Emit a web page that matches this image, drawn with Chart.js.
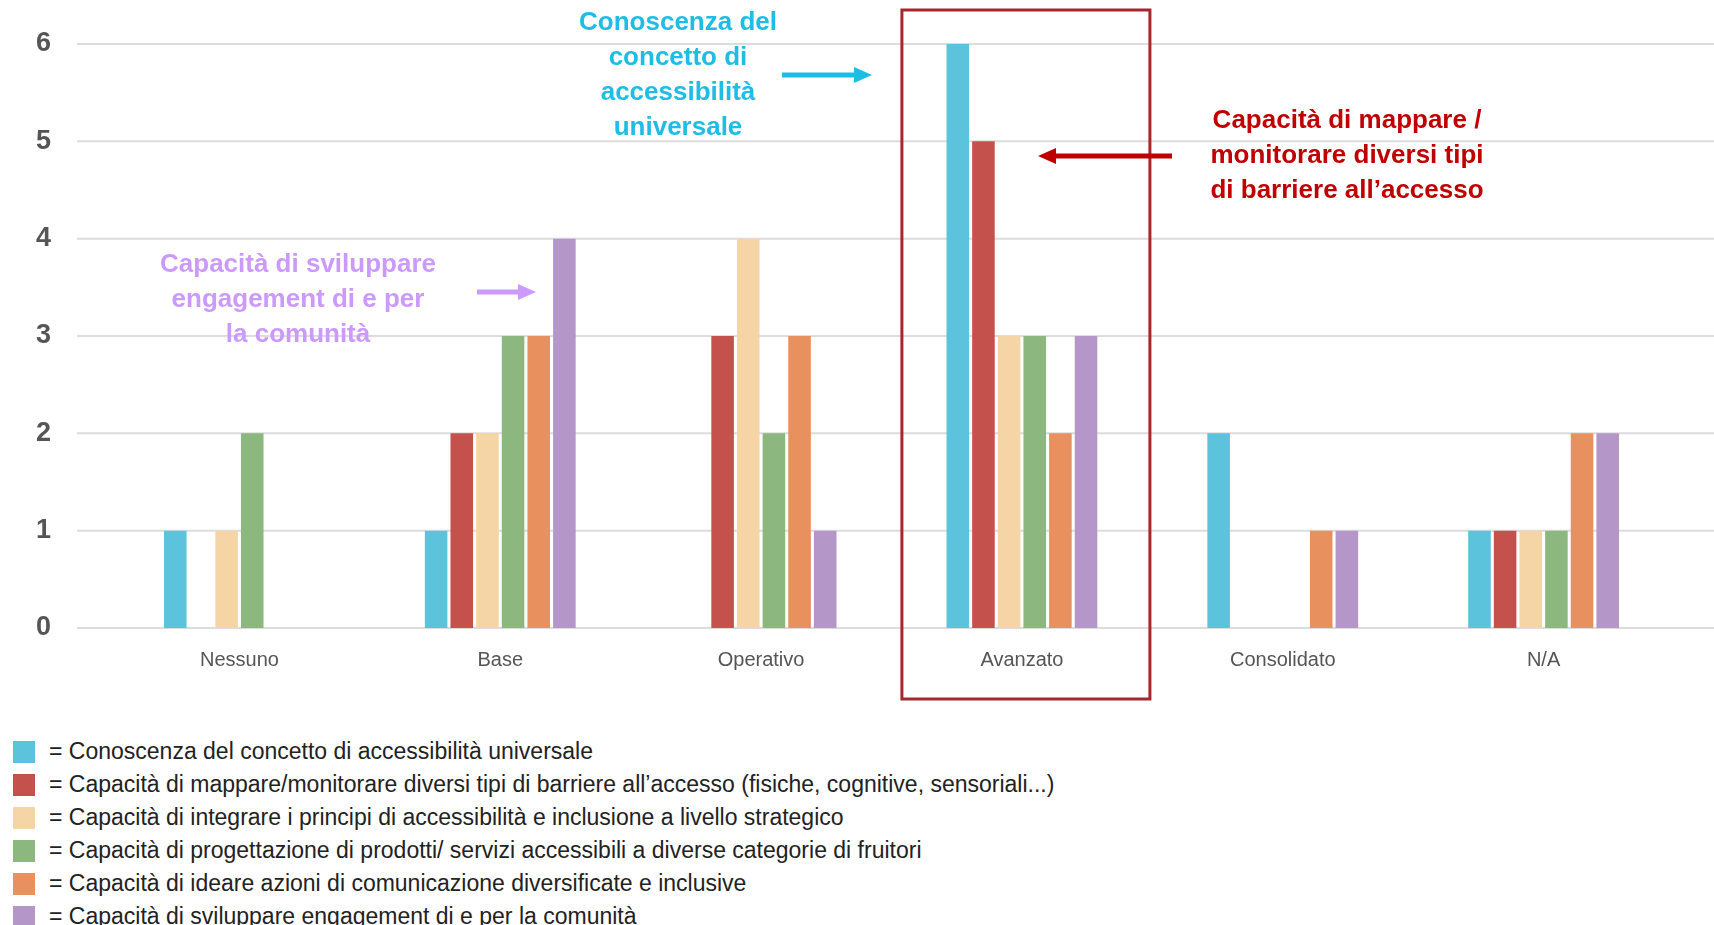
<!DOCTYPE html>
<html>
<head>
<meta charset="utf-8">
<script src="https://cdn.jsdelivr.net/npm/chart.js@4/dist/chart.umd.min.js"></script>
<style>
  body { margin: 0; background: #fff; width: 1714px; height: 925px; overflow: hidden; position: relative; }
  #wrap { position: absolute; left: 0; top: 0; width: 1714px; height: 720px; }
  #legend { position: absolute; left: 13px; top: 735px; font-family: "Liberation Sans Narrow", "Liberation Sans", Arial, sans-serif; font-size: 23px; color: #222; }
  #legend div { height: 33px; display: flex; align-items: center; }
  #legend span.box { display: inline-block; width: 22px; height: 22px; margin-right: 14px; }
</style>
</head>
<body>
<div id="wrap"><canvas id="chart"></canvas></div>
<div id="legend"></div>
<script>
const categories = ['Nessuno', 'Base', 'Operativo', 'Avanzato', 'Consolidato', 'N/A'];

const seriesNames = [
  'Conoscenza del concetto di accessibilità universale',
  'Capacità di mappare/monitorare diversi tipi di barriere all\u2019accesso (fisiche, cognitive, sensoriali...)',
  'Capacità di integrare i principi di accessibilità e inclusione a livello strategico',
  'Capacità di progettazione di prodotti/ servizi accessibili a diverse categorie di fruitori',
  'Capacità di ideare azioni di comunicazione diversificate e inclusive',
  'Capacità di sviluppare engagement di e per la comunità',
];

const conoscenza = [1, 1, 0, 6, 2, 1];
const mappare = [0, 2, 3, 5, 0, 1];
const integrare = [1, 2, 4, 3, 0, 1];
const progettazione = [2, 3, 2, 3, 0, 1];
const comunicazione = [0, 3, 3, 2, 1, 2];
const engagement = [0, 4, 1, 3, 1, 2];

const yTicks = [0, 1, 2, 3, 4, 5, 6];

const colors = ['#5bc4dc', '#c5514d', '#f5d5a6', '#8cb880', '#e9905f', '#b496c8'];
const allSeries = [conoscenza, mappare, integrare, progettazione, comunicazione, engagement];

// html legend built from the series
const legend = document.getElementById('legend');
seriesNames.forEach((name, i) => {
  const row = document.createElement('div');
  row.innerHTML = '<span class="box" style="background:' + colors[i] + '"></span>= ' + name;
  legend.appendChild(row);
});

function arrow(ctx, x1, x2, y, color) {
  const dir = x2 > x1 ? 1 : -1;
  ctx.strokeStyle = color;
  ctx.fillStyle = color;
  ctx.lineWidth = 5;
  ctx.beginPath();
  ctx.moveTo(x1, y);
  ctx.lineTo(x2 - dir * 14, y);
  ctx.stroke();
  ctx.beginPath();
  ctx.moveTo(x2, y);
  ctx.lineTo(x2 - dir * 18, y - 8);
  ctx.lineTo(x2 - dir * 18, y + 8);
  ctx.closePath();
  ctx.fill();
}

function textBlock(ctx, lines, x, y, color) {
  ctx.font = 'bold 26px "Liberation Sans", Arial, sans-serif';
  ctx.fillStyle = color;
  ctx.textAlign = 'center';
  ctx.textBaseline = 'middle';
  lines.forEach((l, i) => ctx.fillText(l, x, y + i * 35));
}

const extras = {
  id: 'extras',
  beforeDatasetsDraw(chart) {
    const ctx = chart.ctx;
    const y = chart.scales.y;
    ctx.save();
    ctx.strokeStyle = '#dcdcdc';
    ctx.lineWidth = 2;
    yTicks.forEach((t) => {
      const py = y.getPixelForValue(t);
      ctx.beginPath();
      ctx.moveTo(77, py);
      ctx.lineTo(chart.width, py);
      ctx.stroke();
    });
    ctx.restore();
  },
  afterDraw(chart) {
    const ctx = chart.ctx;
    const x = chart.scales.x;
    ctx.save();
    // highlight box round Avanzato
    const cx = x.getPixelForValue(3);
    ctx.strokeStyle = '#a3282c';
    ctx.lineWidth = 3;
    ctx.strokeRect(cx - 120, 10, 248, 689);

    textBlock(ctx, ['Conoscenza del', 'concetto di', 'accessibilità', 'universale'], 678, 23, '#1ebde6');
    arrow(ctx, 782, 872, 75, '#1ebde6');

    textBlock(ctx, ['Capacità di mappare /', 'monitorare diversi tipi', 'di barriere all\u2019accesso'], 1347, 121, '#c00000');
    arrow(ctx, 1172, 1038, 156, '#c00000');

    textBlock(ctx, ['Capacità di sviluppare', 'engagement di e per', 'la comunità'], 298, 265, '#cc99ff');
    arrow(ctx, 477, 536, 292, '#cc99ff');
    ctx.restore();
  },
};

new Chart(document.getElementById('chart'), {
  type: 'bar',
  data: {
    labels: categories,
    datasets: allSeries.map((data, i) => ({
      label: seriesNames[i],
      data: data,
      backgroundColor: colors[i],
      borderWidth: 0,
      categoryPercentage: 0.59,
      barPercentage: 0.88,
    })),
  },
  options: {
    responsive: true,
    maintainAspectRatio: false,
    animation: false,
    layout: { padding: { top: 44, right: 40, bottom: 0, left: 36 } },
    plugins: { legend: { display: false }, tooltip: { enabled: false } },
    scales: {
      x: {
        grid: { display: false, drawTicks: false },
        border: { display: false },
        ticks: { color: '#555', font: { size: 20, family: '"Liberation Sans", Arial, sans-serif' }, padding: 20 },
        afterFit(scale) { scale.height = 92; },
      },
      y: {
        min: 0,
        max: 6,
        grid: { display: false, drawTicks: false },
        border: { display: false },
        ticks: { stepSize: 1, color: '#555', crossAlign: 'far', font: { size: 27, weight: 'bold', family: '"Liberation Sans", Arial, sans-serif' }, padding: 0 },
        afterFit(scale) { scale.width = 73; },
      },
    },
  },
  plugins: [extras],
});
</script>
</body>
</html>
